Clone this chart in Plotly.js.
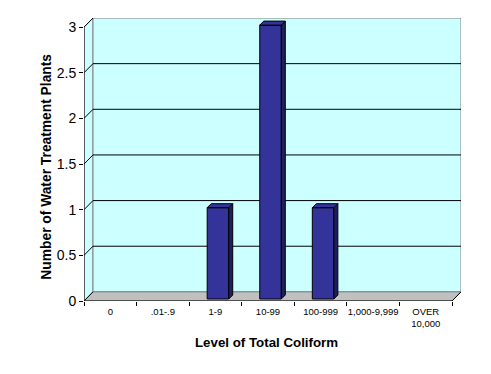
<!DOCTYPE html>
<html>
<head>
<meta charset="utf-8">
<script src="https://cdn.plot.ly/plotly-3.0.1.min.js"></script>
<style>html,body{margin:0;padding:0;background:#fff;}#chart{width:491px;height:374px;}</style>
</head>
<body>
<div id="chart"></div>
<script>
// ---- data ----
const categories = ['0', '.01-.9', '1-9', '10-99', '100-999', '1,000-9,999', 'OVER<br>10,000'];
const plantCounts = [0, 0, 1, 3, 1, 0, 0];
const yTickValues = [0, 0.5, 1, 1.5, 2, 2.5, 3];
const yTickLabels = ['0', '0.5', '1', '1.5', '2', '2.5', '3'];
const xTitle = 'Level of Total Coliform';
const yTitle = 'Number of Water Treatment Plants';

// ---- 3D look parameters (in axis units) ----
const DX = 0.171, DY = 0.1;        // wall depth
const BAR_W = 0.41, BAR_OFF = -0.157, BAR_BASE = 0.022;
const BDX = 0.076, BDY = 0.044;    // bar depth
const YMAX = yTickValues[yTickValues.length - 1];
const n = categories.length;
const L = -0.5, R = n - 0.5;

const shapes = [];
// side wall
shapes.push({type:'path', layer:'below', xref:'x', yref:'y',
  path:`M ${L},0 L ${L+DX},${DY} L ${L+DX},${YMAX+DY} L ${L},${YMAX} Z`,
  fillcolor:'#ccffff', line:{color:'#808080', width:1}});
// back wall
shapes.push({type:'rect', layer:'below', xref:'x', yref:'y',
  x0:L+DX, x1:R+DX, y0:DY, y1:YMAX+DY,
  fillcolor:'#ccffff', line:{color:'#808080', width:1}});
// floor
shapes.push({type:'path', layer:'below', xref:'x', yref:'y',
  path:`M ${L},0 L ${R},0 L ${R+DX},${DY} L ${L+DX},${DY} Z`,
  fillcolor:'#c0c0c0', line:{color:'#808080', width:1}});
// gridlines on back and side walls
yTickValues.forEach(v => {
  if (v > 0 && v < YMAX) {
    shapes.push({type:'line', layer:'below', xref:'x', yref:'y',
      x0:L+DX, x1:R+DX, y0:v+DY, y1:v+DY, line:{color:'#000', width:1}});
  }
  if (v > 0) {
    shapes.push({type:'line', layer:'below', xref:'x', yref:'y',
      x0:L, x1:L+DX, y0:v, y1:v+DY, line:{color:'#000', width:1}});
  }
});
// front axis lines
shapes.push({type:'line', layer:'above', xref:'x', yref:'y', x0:L, x1:L, y0:0, y1:YMAX, line:{color:'#000', width:1}});
shapes.push({type:'line', layer:'above', xref:'x', yref:'y', x0:L, x1:R, y0:0, y1:0, line:{color:'#000', width:1}});
shapes.push({type:'line', layer:'above', xref:'x', yref:'y', x0:R, x1:R+DX, y0:0, y1:DY, line:{color:'#000', width:1}});
shapes.push({type:'line', layer:'above', xref:'x', yref:'y', x0:L, x1:L+DX, y0:0, y1:DY, line:{color:'#000', width:1}});

// bar side and top faces
plantCounts.forEach((v, i) => {
  if (v <= 0) return;
  const xl = i + BAR_OFF, xr = xl + BAR_W, b = BAR_BASE, t = BAR_BASE + v;
  shapes.push({type:'path', layer:'above', xref:'x', yref:'y',
    path:`M ${xr},${b} L ${xr+BDX},${b+BDY} L ${xr+BDX},${t+BDY} L ${xr},${t} Z`,
    fillcolor:'#1f1f5e', line:{color:'#000', width:1}});
  shapes.push({type:'path', layer:'above', xref:'x', yref:'y',
    path:`M ${xl},${t} L ${xl+BDX},${t+BDY} L ${xr+BDX},${t+BDY} L ${xr},${t} Z`,
    fillcolor:'#33339a', line:{color:'#000', width:1}});
});

const trace = {
  type:'bar',
  x: categories,
  y: plantCounts.map(v => v > 0 ? v : null),
  base: BAR_BASE,
  width: BAR_W,
  offset: BAR_OFF,
  marker:{color:'#333399', line:{color:'#000', width:1}},
  hoverinfo:'x+y'
};

const font = 'Liberation Sans, Arial, sans-serif';
const layout = {
  width:491, height:374,
  margin:{l:84, r:30, t:18, b:73, pad:0},
  paper_bgcolor:'#fff', plot_bgcolor:'#fff',
  showlegend:false,
  font:{family:font, color:'#000'},
  xaxis:{
    type:'category', categoryorder:'array', categoryarray:categories,
    range:[L, R+DX], tickson:'boundaries', ticks:'outside', ticklen:4, tickcolor:'#000', tickwidth:1,
    tickangle:0, ticklabelstandoff:3,
    showgrid:false, showline:false, zeroline:false, fixedrange:true,
    tickfont:{family:font, size:9.5, color:'#000'}
  },
  yaxis:{
    range:[0, YMAX+DY], tickmode:'array', tickvals:yTickValues, ticktext:yTickLabels,
    ticks:'outside', ticklen:4, tickcolor:'#000', tickwidth:1,
    showgrid:false, showline:false, zeroline:false, fixedrange:true,
    tickfont:{family:font, size:14, color:'#000'}
  },
  annotations:[
    {text:xTitle, xref:'paper', yref:'paper', x:0.485, y:-0.145, xanchor:'center', yanchor:'middle',
     showarrow:false, font:{family:font, size:13.3, color:'#000', weight:'bold'}},
    {text:yTitle, xref:'paper', yref:'paper', x:-0.098, y:0.475, xanchor:'center', yanchor:'middle',
     textangle:-90, showarrow:false, font:{family:font, size:13.8, color:'#000', weight:'bold'}}
  ],
  shapes: shapes
};

Plotly.newPlot('chart', [trace], layout, {displayModeBar:false, staticPlot:true});
</script>
</body>
</html>
